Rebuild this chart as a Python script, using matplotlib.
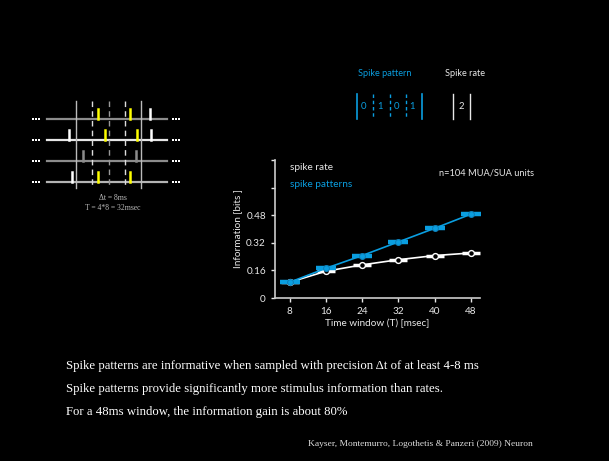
import matplotlib.pyplot as plt

# information values
windows = [8, 16, 24, 32, 40, 48]
info_rate = [0.091, 0.155, 0.192, 0.222, 0.246, 0.261]
info_pattern = [0.091, 0.172, 0.246, 0.325, 0.404, 0.486]
yticks = [0, 0.16, 0.32, 0.48, 0.64, 0.80]
yticklabels = ['0', '0.16', '0.32', '0.48', '', '']

# raster diagram: row y, spike x and colour
row_y = [119, 140, 161, 182]
row_col = ['#8c8c8c', '#e6e6e6', '#8c8c8c', '#b4b4b4']
spikes = [
    [(98, 'yellow'), (130, 'yellow'), (150, 'white')],
    [(69, 'white'), (104.5, 'yellow'), (136.5, 'yellow'), (150.5, 'white')],
    [(83, '#8c8c8c'), (136, '#8c8c8c')],
    [(71.5, 'white'), (98, 'yellow'), (130, 'yellow')],
]

# spike pattern code
pattern_bits = ['0', '1', '0', '1']
rate_count = '2'

notes = ['Spike patterns are informative when sampled with precision \u0394t of at least 4-8 ms',
         'Spike patterns provide significantly more stimulus information than rates.',
         'For a 48ms window, the information gain is about 80%']
cite = 'Kayser, Montemurro, Logothetis & Panzeri (2009) Neuron'

BLUE = '#0a9ee0'
FG = '#e8e8e8'
plt.rcParams['font.family'] = ['Lato', 'DejaVu Sans']

fig = plt.figure(figsize=(6.09, 4.61), dpi=100, facecolor='black')

# overlay in pixel coordinates for the slide decorations
ov = fig.add_axes([0, 0, 1, 1])
ov.set_xlim(0, 609)
ov.set_ylim(461, 0)
ov.axis('off')
ov.set_facecolor('black')

# raster rows
for y, c in zip(row_y, row_col):
    ov.plot([47, 167], [y, y], color=c, lw=1.6)
    for dx in [-3.3, 0, 3.3]:
        ov.plot(36 + dx, y, 's', ms=1.6, color='white', mew=0)
        ov.plot(176 + dx, y, 's', ms=1.6, color='white', mew=0)
for y, row in zip(row_y, spikes):
    for x, c in row:
        ov.plot([x, x], [y - 10, y], color=c, lw=1.8)
for x in [76, 141]:
    ov.plot([x, x], [101, 188], color='#bbbbbb', lw=1.0)
for x, c in zip([92, 109, 125], ['#dddddd', '#999999', '#dddddd']):
    ov.plot([x, x], [101, 188], color=c, lw=1.0, ls=(0, (4, 3)))
ov.text(113, 198, '\u0394t = 8ms', color='#bbbbbb', fontsize=5.5, ha='center', va='center',
        family='Liberation Serif')
ov.text(113, 208, 'T = 4*8 = 32msec', color='#bbbbbb', fontsize=5.5, ha='center', va='center',
        family='Liberation Serif')

# pattern vs rate boxes
ov.text(385, 73, 'Spike pattern', color=BLUE, fontsize=6.6, ha='center', va='center')
ov.text(465, 73, 'Spike rate', color=FG, fontsize=6.6, ha='center', va='center')
for x in [357, 422]:
    ov.plot([x, x], [94, 119], color=BLUE, lw=1.2)
for x in [373, 390, 406]:
    ov.plot([x, x], [94, 119], color=BLUE, lw=1.0, ls=(0, (2.5, 2)))
for x, b in zip([363.5, 380.5, 397, 412.5], pattern_bits):
    ov.text(x, 106, b, color=BLUE, fontsize=6.8, ha='center', va='center')
for x in [453, 470]:
    ov.plot([x, x], [94, 119], color=FG, lw=1.0)
ov.text(461.5, 106, rate_count, color=FG, fontsize=6.8, ha='center', va='center')

# bottom notes
for i, s in enumerate(notes):
    ov.text(66, 366 + 23 * i, s, color='white', fontsize=9.2, ha='left', va='center',
            family='Liberation Serif')
ov.text(533, 444, cite, color='#dddddd', fontsize=6.8, ha='right', va='center',
        family='Liberation Serif')

# main chart
ax = fig.add_axes([275 / 609, 1 - 298 / 461, 205 / 609, 138 / 461])
ax.set_facecolor('black')
ax.patch.set_alpha(0)
ax.plot(windows, info_rate, color='white', lw=1.2, zorder=3)
ax.plot(windows, info_rate, ls='none', marker='_', ms=13, mew=2.5, color='white', zorder=3)
ax.plot(windows, info_rate, ls='none', marker='o', ms=4.2, mfc='black', mec='white', mew=1, zorder=4)
ax.plot(windows, info_pattern, color=BLUE, lw=1.2, zorder=5)
ax.plot(windows, info_pattern, ls='none', marker='_', ms=14, mew=3.2, color=BLUE, zorder=5)
ax.plot(windows, info_pattern, ls='none', marker='o', ms=4.2, mfc=BLUE, mec='#0d7fb8', mew=0.8, zorder=6)

ax.set_xlim(4.8, 50)
ax.set_ylim(0, 0.8)
ax.set_xticks(windows)
ax.set_yticks(yticks)
ax.set_yticklabels(yticklabels)
for s in ['top', 'right']:
    ax.spines[s].set_visible(False)
for s in ['left', 'bottom']:
    ax.spines[s].set_color('#cccccc')
    ax.spines[s].set_linewidth(1.2)
ax.tick_params(colors=FG, labelsize=7.2, length=3, width=1)
ax.set_xlabel('Time window (T) [msec]', color=FG, fontsize=7.2, labelpad=2)
ax.set_ylabel('Information [bits ]', color=FG, fontsize=7.2, labelpad=3)

ax.text(0.075, 0.945, 'spike rate', color=FG, fontsize=7.2, transform=ax.transAxes, va='center')
ax.text(0.075, 0.82, 'spike patterns', color=BLUE, fontsize=7.2, transform=ax.transAxes, va='center')
ax.text(0.8, 0.905, 'n=104 MUA/SUA units', color=FG, fontsize=6.7, transform=ax.transAxes,
        va='center', ha='left')

fig.savefig('out.png', dpi=100, facecolor='black')
